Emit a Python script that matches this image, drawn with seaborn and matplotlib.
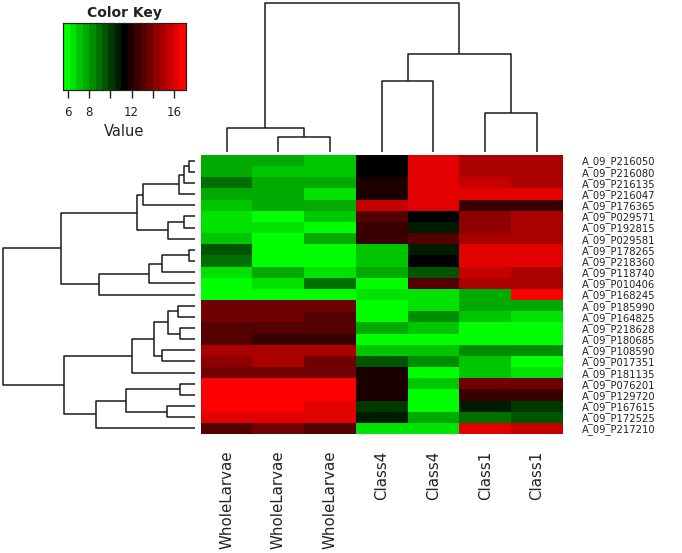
import numpy as np
import pandas as pd
import matplotlib
matplotlib.use("Agg")
import matplotlib.pyplot as plt
import seaborn as sns
from matplotlib.colors import LinearSegmentedColormap

# ---------------- data ----------------
row_labels = ["A_09_P216050", "A_09_P216080", "A_09_P216135", "A_09_P216047",
              "A_09_P176365", "A_09_P029571", "A_09_P192815", "A_09_P029581",
              "A_09_P178265", "A_09_P218360", "A_09_P118740", "A_09_P010406",
              "A_09_P168245", "A_09_P185990", "A_09_P164825", "A_09_P218628",
              "A_09_P180685", "A_09_P108590", "A_09_P017351", "A_09_P181135",
              "A_09_P076201", "A_09_P129720", "A_09_P167615", "A_09_P172525",
              "A_09_P217210"]
col_labels = ["WholeLarvae", "WholeLarvae", "WholeLarvae",
              "Class4", "Class4", "Class1", "Class1"]

whole_larvae_a = [7.7, 7.7, 8.6, 7.7, 7.0, 6.6, 6.4, 6.8, 9.5, 9.1, 6.6, 5.6, 5.9,
                  13.6, 13.6, 13.4, 13.4, 15.0, 14.5, 14.0, 17.1, 17.1, 16.5, 15.9, 12.9]
whole_larvae_b = [7.5, 7.3, 7.9, 7.5, 7.5, 5.6, 6.4, 5.9, 6.1, 5.9, 7.5, 6.6, 5.7,
                  13.8, 13.6, 13.1, 12.7, 14.7, 14.7, 14.0, 17.1, 16.8, 16.5, 16.3, 13.6]
whole_larvae_c = [7.3, 7.3, 7.5, 6.4, 7.9, 6.8, 6.1, 7.7, 5.7, 5.6, 6.6, 9.1, 5.7,
                  13.6, 13.1, 13.1, 12.8, 15.0, 14.0, 13.6, 17.1, 16.9, 16.1, 15.9, 13.1]
class4_a = [11.6, 11.5, 11.8, 11.8, 15.6, 13.4, 12.7, 12.7, 6.8, 6.8, 7.9, 5.6, 6.4,
            5.7, 5.9, 7.5, 5.9, 7.0, 9.8, 12.2, 12.2, 11.8, 10.0, 10.7, 6.4]
class4_b = [16.3, 15.9, 16.1, 16.1, 16.1, 11.1, 10.9, 13.1, 11.0, 11.1, 9.8, 12.9, 6.4,
            6.6, 8.4, 6.8, 5.9, 7.0, 8.2, 5.9, 6.8, 5.6, 6.1, 7.7, 6.4]
class1_a = [15.2, 14.7, 15.6, 15.9, 12.5, 14.5, 14.5, 14.7, 16.1, 16.1, 15.4, 15.0, 7.5,
            7.7, 6.8, 5.6, 5.6, 8.4, 6.8, 7.0, 13.6, 12.5, 11.0, 8.6, 15.9]
class1_b = [15.2, 15.2, 15.2, 16.1, 12.5, 15.0, 14.7, 15.0, 16.1, 16.1, 15.2, 15.0, 17.1,
            7.9, 6.4, 5.6, 5.7, 8.4, 5.9, 6.4, 13.6, 12.7, 10.4, 9.3, 15.6]

# hierarchical merges (child_a, child_b, height); leaves 0..n-1 in display order
row_merges = [(0, 1, 6.0), (25, 2, 11.0), (26, 3, 16.0), (27, 4, 51.7),
              (5, 6, 10.7), (29, 7, 26.7), (28, 30, 58.3),
              (8, 9, 6.0), (32, 10, 32.7), (33, 11, 46.0), (34, 12, 96.0),
              (31, 35, 134.0),
              (13, 14, 16.7), (15, 16, 15.0), (37, 38, 26.7), (17, 18, 32.7),
              (39, 40, 41.0), (41, 19, 62.7),
              (20, 21, 15.0), (22, 23, 28.3), (43, 44, 69.3), (45, 24, 99.0),
              (42, 46, 131.0), (36, 47, 191.7)]
col_merges = [(1, 2, 15.3), (0, 7, 23.7), (3, 4, 71.0), (5, 6, 39.3),
              (9, 10, 98.0), (8, 11, 148.7)]

key_ticks = [6, 8, 10, 12, 14, 16]
key_tick_labels = ["6", "8", "", "12", "", "16"]
vmin, vmax = 5.56, 17.1

# ---------------- figure ----------------
W, H = 682, 553
fig = plt.figure(figsize=(W / 100, H / 100), dpi=100)
fig.patch.set_facecolor("white")


def px_axes(x0, y0, x1, y1):
    return fig.add_axes([x0 / W, 1 - y1 / H, (x1 - x0) / W, (y1 - y0) / H])


hm_x0, hm_y0, hm_x1, hm_y1 = 200.7, 155.0, 562.7, 434.0
ax_hm = px_axes(hm_x0, hm_y0, hm_x1, hm_y1)
ax_row = px_axes(3.3, hm_y0, 195.0, hm_y1)
ax_col = px_axes(hm_x0, 3.3, hm_x1, 152.0)
ax_key = px_axes(63.3, 23.0, 185.7, 89.7)

df = pd.DataFrame({
    "c1": whole_larvae_a, "c2": whole_larvae_b, "c3": whole_larvae_c,
    "c4": class4_a, "c5": class4_b, "c6": class1_a, "c7": class1_b,
}, index=row_labels)
df.columns = col_labels

cmap = LinearSegmentedColormap.from_list("rg", ["#00FF00", "#000000", "#FF0000"], N=19)

sns.heatmap(df, ax=ax_hm, cmap=cmap, vmin=vmin, vmax=vmax, cbar=True,
            cbar_ax=ax_key, cbar_kws={"orientation": "horizontal"},
            linewidths=0, xticklabels=True, yticklabels=True)

font = "DejaVu Sans"
ax_hm.yaxis.tick_right()
ax_hm.tick_params(axis="y", length=0, pad=13.5, labelsize=7.2, labelrotation=0)
ax_hm.tick_params(axis="x", length=0, pad=12, labelsize=10.8, labelrotation=90)
for t in ax_hm.get_yticklabels():
    t.set_fontfamily(font)
    t.set_color("#222222")
    t.set_ha("left")
for t in ax_hm.get_xticklabels():
    t.set_fontfamily(font)
    t.set_color("#222222")
ax_hm.set_xlabel("")
ax_hm.set_ylabel("")


def draw_dendro(ax, merges, n, orient):
    pos = {i: i + 0.5 for i in range(n)}
    hgt = {i: 0.0 for i in range(n)}
    for k, (a, b, h) in enumerate(merges):
        pa, pb, ha, hb = pos[a], pos[b], hgt[a], hgt[b]
        if orient == "top":
            ax.plot([pa, pa, pb, pb], [ha, h, h, hb], color="#1a1a1a", lw=1.1,
                    clip_on=False, solid_capstyle="butt")
        else:
            ax.plot([ha, h, h, hb], [pa, pa, pb, pb], color="#1a1a1a", lw=1.1,
                    clip_on=False, solid_capstyle="butt")
        pos[n + k] = (pa + pb) / 2
        hgt[n + k] = h
    return max(m[2] for m in merges)


rmax = draw_dendro(ax_row, row_merges, len(row_labels), "left")
ax_row.set_xlim(rmax, 0)
ax_row.set_ylim(len(row_labels), 0)
ax_row.axis("off")

cmax = draw_dendro(ax_col, col_merges, len(col_labels), "top")
ax_col.set_ylim(0, cmax)
ax_col.set_xlim(0, len(col_labels))
ax_col.axis("off")

# colour key
ax_key.set_xticks(key_ticks)
ax_key.set_xticklabels(key_tick_labels)
ax_key.tick_params(axis="x", length=5.5, width=1, pad=6, labelsize=8.5,
                   colors="#222222", direction="out")
for t in ax_key.get_xticklabels():
    t.set_fontfamily(font)
for s in ax_key.spines.values():
    s.set_visible(True)
    s.set_color("#222222")
    s.set_linewidth(0.8)
ax_key.set_title("Color Key", fontsize=10, fontweight="bold", pad=4,
                 fontfamily=font, color="#222222")
ax_key.set_xlabel("Value", fontsize=10.5, labelpad=4, fontfamily=font,
                  color="#222222")

fig.savefig("out.png", dpi=100, facecolor="white")
